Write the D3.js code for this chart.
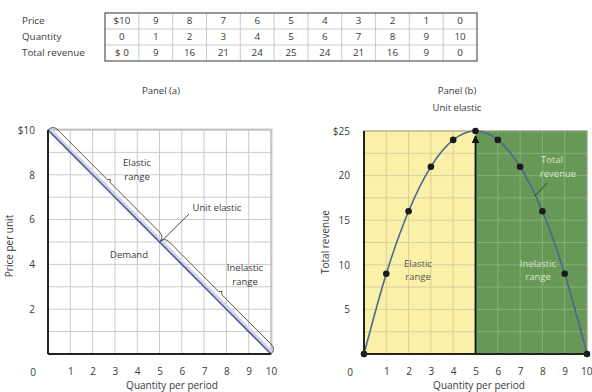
<!DOCTYPE html>
<html>
<head>
<meta charset="utf-8">
<script src="https://cdn.jsdelivr.net/npm/d3@7"></script>
<style>
  body { margin: 0; background: #fff; }
  text { font-family: "Open Sans", "Noto Sans", sans-serif; fill: #3a3a3a; }
</style>
</head>
<body>
<svg id="chart" width="592" height="392"></svg>
<script>
// table values
const rowLabels = ["Price", "Quantity", "Total revenue"]
const priceCells = ["$10", "9", "8", "7", "6", "5", "4", "3", "2", "1", "0"]
const quantityCells = ["0", "1", "2", "3", "4", "5", "6", "7", "8", "9", "10"]
const revenueCells = ["$ 0", "9", "16", "21", "24", "25", "24", "21", "16", "9", "0"]

// chart values
const prices = [10, 9, 8, 7, 6, 5, 4, 3, 2, 1, 0]
const quantities = [0, 1, 2, 3, 4, 5, 6, 7, 8, 9, 10]
const revenues = [0, 9, 16, 21, 24, 25, 24, 21, 16, 9, 0]
const xTicks = [1, 2, 3, 4, 5, 6, 7, 8, 9, 10]
const priceTicks = [2, 4, 6, 8, 10]
const revenueTicks = [5, 10, 15, 20, 25]

const svg = d3.select("#chart")

// ---- table ----
const tbl = svg.append("g")
const colX = d3.scaleBand().domain(d3.range(11)).range([105, 477])
const rowY = d3.scaleBand().domain(d3.range(3)).range([13, 61])

tbl.selectAll(".rowLabel")
.data(rowLabels)
.join("text")
.attr("x", 22)
.attr("y", (d, i) => rowY(i) + rowY.bandwidth() / 2)
.attr("dy", "0.35em")
.attr("font-size", 9.8)
.text(d => d)

const rows = [priceCells, quantityCells, revenueCells]
rows.forEach((cells, r) => {
  tbl.selectAll(".cell" + r)
  .data(cells)
  .join("text")
  .attr("x", (d, i) => colX(i) + colX.bandwidth() / 2)
  .attr("y", rowY(r) + rowY.bandwidth() / 2)
  .attr("dy", "0.35em")
  .attr("text-anchor", "middle")
  .attr("font-size", 9.8)
  .text(d => d)
})

tbl.selectAll(".vline")
.data(d3.range(1, 11))
.join("line")
.attr("x1", i => colX(i)).attr("x2", i => colX(i))
.attr("y1", 13).attr("y2", 61)
.attr("stroke", "#bbb").attr("stroke-width", 0.8)

tbl.selectAll(".hline")
.data([1, 2])
.join("line")
.attr("x1", 105).attr("x2", 477)
.attr("y1", i => rowY(i)).attr("y2", i => rowY(i))
.attr("stroke", "#bbb").attr("stroke-width", 0.8)

tbl.append("rect")
.attr("x", 105).attr("y", 13).attr("width", 372).attr("height", 48)
.attr("fill", "none").attr("stroke", "#555").attr("stroke-width", 1.2)

// ---- panel titles ----
svg.append("text").attr("x", 161).attr("y", 94).attr("text-anchor", "middle").attr("font-size", 9.5).text("Panel (a)")
svg.append("text").attr("x", 457).attr("y", 94).attr("text-anchor", "middle").attr("font-size", 9.5).text("Panel (b)")
svg.append("text").attr("x", 457).attr("y", 111).attr("text-anchor", "middle").attr("font-size", 9.5).text("Unit elastic")

// ---- panel (a) ----
const xA = d3.scaleLinear().domain([0, 10]).range([48, 271])
const yA = d3.scaleLinear().domain([0, 10]).range([354, 130])

const pa = svg.append("g")

pa.append("rect")
.attr("x", xA(0) + 2).attr("y", yA(10) - 2).attr("width", xA(10) - xA(0)).attr("height", yA(0) - yA(10))
.attr("fill", "#e4e4e4")
pa.append("rect")
.attr("x", xA(0)).attr("y", yA(10)).attr("width", xA(10) - xA(0)).attr("height", yA(0) - yA(10))
.attr("fill", "#fff").attr("stroke", "#aaa").attr("stroke-width", 1)

pa.selectAll(".gx")
.data(xTicks)
.join("line")
.attr("x1", d => xA(d)).attr("x2", d => xA(d))
.attr("y1", yA(0)).attr("y2", yA(10))
.attr("stroke", "#c4c4c4").attr("stroke-width", 0.9)

pa.selectAll(".gy")
.data(xTicks)
.join("line")
.attr("x1", xA(0)).attr("x2", xA(10))
.attr("y1", d => yA(d)).attr("y2", d => yA(d))
.attr("stroke", "#c4c4c4").attr("stroke-width", 0.9)

// demand curve: light band + blue line
const demandLine = d3.line().x(d => xA(d[0])).y(d => yA(d[1]))
const demandPts = quantities.map((q, i) => [q, prices[i]])

pa.append("path")
.attr("d", demandLine(demandPts))
.attr("transform", "translate(1.4,-1.4)")
.attr("fill", "none").attr("stroke", "#d4d5ea").attr("stroke-width", 3)

pa.append("path")
.attr("d", demandLine(demandPts))
.attr("fill", "none").attr("stroke", "#4d5a94").attr("stroke-width", 1.6)

// brackets along demand curve
function bracket(q0, q1, off) {
  const p0 = [xA(q0), yA(prices[quantities.indexOf(q0)])]
  const p1 = [xA(q1), yA(prices[quantities.indexOf(q1)])]
  const len = Math.hypot(p1[0] - p0[0], p1[1] - p0[1])
  const d = [(p1[0] - p0[0]) / len, (p1[1] - p0[1]) / len]
  const n = [d[1], -d[0]]
  const pt = (t, o) => [p0[0] + d[0] * t + n[0] * o, p0[1] + d[1] * t + n[1] * o]
  const m = len / 2
  const path = d3.path()
  path.moveTo(...p0)
  path.quadraticCurveTo(...pt(0, off), ...pt(off, off))
  path.lineTo(...pt(m - 2, off))
  path.lineTo(...pt(m, off + 2.5))
  path.lineTo(...pt(m + 2, off))
  path.lineTo(...pt(len - off, off))
  path.quadraticCurveTo(...pt(len, off), ...p1)
  return path.toString()
}

pa.append("path").attr("d", bracket(0, 5, 7))
.attr("fill", "none").attr("stroke", "#444").attr("stroke-width", 0.9)
pa.append("path").attr("d", bracket(5, 10, 7))
.attr("fill", "none").attr("stroke", "#444").attr("stroke-width", 0.9)

// axes lines
pa.append("line").attr("x1", xA(0)).attr("x2", xA(0)).attr("y1", yA(0)).attr("y2", yA(10))
.attr("stroke", "#222").attr("stroke-width", 2)
pa.append("line").attr("x1", xA(0)).attr("x2", xA(10)).attr("y1", yA(0)).attr("y2", yA(0))
.attr("stroke", "#222").attr("stroke-width", 2)

// labels
pa.append("text").attr("x", 137).attr("y", 166).attr("text-anchor", "middle").attr("font-size", 9.5).text("Elastic")
pa.append("text").attr("x", 137).attr("y", 180).attr("text-anchor", "middle").attr("font-size", 9.5).text("range")
pa.append("text").attr("x", 217).attr("y", 211).attr("text-anchor", "middle").attr("font-size", 9.5).text("Unit elastic")
pa.append("line").attr("x1", 189).attr("y1", 214).attr("x2", xA(5) + 2).attr("y2", yA(5) - 1)
.attr("stroke", "#333").attr("stroke-width", 0.9)
pa.append("text").attr("x", 129).attr("y", 258).attr("text-anchor", "middle").attr("font-size", 9.5).text("Demand")
pa.append("text").attr("x", 245).attr("y", 271).attr("text-anchor", "middle").attr("font-size", 9.5).text("Inelastic")
pa.append("text").attr("x", 245).attr("y", 285).attr("text-anchor", "middle").attr("font-size", 9.5).text("range")

// tick labels
const axA = pa.append("g").attr("transform", `translate(0,${yA(0)})`)
.call(d3.axisBottom(xA).tickValues(xTicks).tickSize(0).tickPadding(14))
axA.select(".domain").remove()
axA.selectAll("text").attr("font-size", 10).attr("font-family", "Open Sans, sans-serif").attr("fill", "#3a3a3a")
pa.append("text").attr("x", 33).attr("y", yA(0) + 22).attr("text-anchor", "middle").attr("font-size", 10).text("0")

const ayA = pa.append("g").attr("transform", `translate(${xA(0)},0)`)
.call(d3.axisLeft(yA).tickValues(priceTicks).tickSize(0).tickPadding(13).tickFormat(d => d === 10 ? "$10" : d))
ayA.select(".domain").remove()
ayA.selectAll("text").attr("font-size", 10).attr("font-family", "Open Sans, sans-serif").attr("fill", "#3a3a3a")

pa.append("text").attr("x", 172).attr("y", 389).attr("text-anchor", "middle").attr("font-size", 10).text("Quantity per period")
pa.append("text").attr("transform", "translate(13,246) rotate(-90)").attr("text-anchor", "middle").attr("font-size", 10).text("Price per unit")

// ---- panel (b) ----
const xB = d3.scaleLinear().domain([0, 10]).range([364, 587])
const yB = d3.scaleLinear().domain([0, 25]).range([354, 131])
const revTicksGrid = d3.range(1, 11).map(i => i * 2.5)

const pb = svg.append("g")

pb.append("rect")
.attr("x", xB(0)).attr("y", yB(25)).attr("width", xB(5) - xB(0)).attr("height", yB(0) - yB(25))
.attr("fill", "#fbf0a8")
pb.append("rect")
.attr("x", xB(5)).attr("y", yB(25)).attr("width", xB(10) - xB(5)).attr("height", yB(0) - yB(25))
.attr("fill", "#689858")

pb.selectAll(".gxy")
.data(xTicks.filter(d => d < 5))
.join("line")
.attr("x1", d => xB(d)).attr("x2", d => xB(d))
.attr("y1", yB(0)).attr("y2", yB(25))
.attr("stroke", "#d6cc98").attr("stroke-width", 0.9)
pb.selectAll(".gxg")
.data(xTicks.filter(d => d > 5))
.join("line")
.attr("x1", d => xB(d)).attr("x2", d => xB(d))
.attr("y1", yB(0)).attr("y2", yB(25))
.attr("stroke", "#88b47a").attr("stroke-width", 0.9)
pb.selectAll(".gyy")
.data(revTicksGrid)
.join("line")
.attr("x1", xB(0)).attr("x2", xB(5))
.attr("y1", d => yB(d)).attr("y2", d => yB(d))
.attr("stroke", "#d6cc98").attr("stroke-width", 0.9)
pb.selectAll(".gyg")
.data(revTicksGrid)
.join("line")
.attr("x1", xB(5)).attr("x2", xB(10))
.attr("y1", d => yB(d)).attr("y2", d => yB(d))
.attr("stroke", "#88b47a").attr("stroke-width", 0.9)

pb.append("rect")
.attr("x", xB(0)).attr("y", yB(25)).attr("width", xB(10) - xB(0)).attr("height", yB(0) - yB(25))
.attr("fill", "none").attr("stroke", "#8a9a80").attr("stroke-width", 0.8)

// unit elastic divider with arrow
pb.append("defs").append("marker")
.attr("id", "arrow").attr("viewBox", "0 0 10 10").attr("refX", 9).attr("refY", 5)
.attr("markerWidth", 4.5).attr("markerHeight", 4.5).attr("orient", "auto-start-reverse")
.append("path").attr("d", "M0,0L10,5L0,10Z").attr("fill", "#111")

pb.append("line")
.attr("x1", xB(5)).attr("x2", xB(5)).attr("y1", yB(0)).attr("y2", yB(25) + 5)
.attr("stroke", "#111").attr("stroke-width", 1.8).attr("marker-end", "url(#arrow)")

// total revenue curve
const revLine = d3.line().x(d => xB(d[0])).y(d => yB(d[1])).curve(d3.curveMonotoneX)
const revPts = quantities.map((q, i) => [q, revenues[i]])

pb.append("path")
.attr("d", revLine(revPts))
.attr("fill", "none").attr("stroke", "#4a6890").attr("stroke-width", 1.6)

pb.selectAll(".dot")
.data(revPts)
.join("circle")
.attr("cx", d => xB(d[0])).attr("cy", d => yB(d[1])).attr("r", 3.3)
.attr("fill", "#1a1a1a")

// axes
pb.append("line").attr("x1", xB(0)).attr("x2", xB(0)).attr("y1", yB(0)).attr("y2", yB(25))
.attr("stroke", "#222").attr("stroke-width", 2)
pb.append("line").attr("x1", xB(0)).attr("x2", xB(10)).attr("y1", yB(0)).attr("y2", yB(0))
.attr("stroke", "#222").attr("stroke-width", 2)

// labels
pb.append("text").attr("x", 418).attr("y", 267).attr("text-anchor", "middle").attr("font-size", 9.5).style("fill", "#555").text("Elastic")
pb.append("text").attr("x", 418).attr("y", 280).attr("text-anchor", "middle").attr("font-size", 9.5).style("fill", "#555").text("range")
pb.append("text").attr("x", 538).attr("y", 267).attr("text-anchor", "middle").attr("font-size", 9.5).style("fill", "#d6e6cc").text("Inelastic")
pb.append("text").attr("x", 538).attr("y", 280).attr("text-anchor", "middle").attr("font-size", 9.5).style("fill", "#d6e6cc").text("range")
pb.append("text").attr("x", 552).attr("y", 163).attr("text-anchor", "middle").attr("font-size", 9.5).style("fill", "#d6e6cc").text("Total")
pb.append("text").attr("x", 558).attr("y", 177).attr("text-anchor", "middle").attr("font-size", 9.5).style("fill", "#d6e6cc").text("revenue")
pb.append("line").attr("x1", 547).attr("y1", 183).attr("x2", 535).attr("y2", 196)
.attr("stroke", "#1f3a18").attr("stroke-width", 0.9)

const axB = pb.append("g").attr("transform", `translate(0,${yB(0)})`)
.call(d3.axisBottom(xB).tickValues(xTicks).tickSize(0).tickPadding(14))
axB.select(".domain").remove()
axB.selectAll("text").attr("font-size", 10).attr("font-family", "Open Sans, sans-serif").attr("fill", "#3a3a3a")
// last label sits at the right edge; keep it inside the window
axB.selectAll(".tick").filter(d => d === 10).select("text").attr("text-anchor", "end").attr("x", 5)
pb.append("text").attr("x", 350).attr("y", yB(0) + 22).attr("text-anchor", "middle").attr("font-size", 10).text("0")

const ayB = pb.append("g").attr("transform", `translate(${xB(0)},0)`)
.call(d3.axisLeft(yB).tickValues(revenueTicks).tickSize(0).tickPadding(14).tickFormat(d => d === 25 ? "$25" : d))
ayB.select(".domain").remove()
ayB.selectAll("text").attr("font-size", 10).attr("font-family", "Open Sans, sans-serif").attr("fill", "#3a3a3a")

pb.append("text").attr("x", 479).attr("y", 389).attr("text-anchor", "middle").attr("font-size", 10).text("Quantity per period")
pb.append("text").attr("transform", "translate(329,242) rotate(-90)").attr("text-anchor", "middle").attr("font-size", 10).text("Total revenue")
</script>
</body>
</html>
